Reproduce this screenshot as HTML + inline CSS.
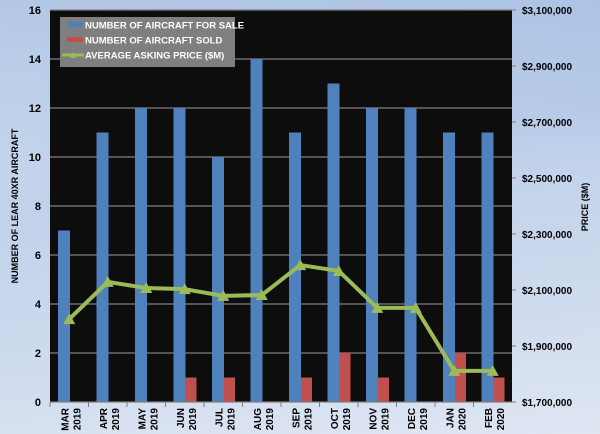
<!DOCTYPE html>
<html><head><meta charset="utf-8"><style>
html,body{margin:0;padding:0}
body{width:600px;height:434px;overflow:hidden;background:linear-gradient(170deg,#e2e9f4 0%,#c5d5ec 40%,#dfe6f2 100%);font-family:"Liberation Sans",sans-serif}
#bg{position:absolute;left:0;top:0;width:600px;height:434px;background:linear-gradient(to bottom,rgba(140,172,218,0.55) 0%,rgba(180,200,230,0.3) 40%,rgba(230,236,245,0) 100%)}
svg{position:absolute;left:0;top:0}
text{font-family:"Liberation Sans",sans-serif;font-weight:bold;fill:#000}
</style></head><body>
<div id="bg"></div>
<svg id="chart" width="600" height="434"></svg>
<script>
const months=["MAR","APR","MAY","JUN","JUL","AUG","SEP","OCT","NOV","DEC","JAN","FEB"];
const years=["2019","2019","2019","2019","2019","2019","2019","2019","2019","2019","2020","2020"];
const forSale=[7,11,12,12,10,14,11,13,12,12,11,11];
const sold=[0,0,0,1,1,0,1,2,1,0,2,1];
const price=[1996000,2129000,2107000,2103000,2079000,2082000,2189000,2168000,2036000,2036000,1811000,1811000];
const leftTicks=[0,2,4,6,8,10,12,14,16];
const rightTicks=[1700000,1900000,2100000,2300000,2500000,2700000,2900000,3100000];

const NS="http://www.w3.org/2000/svg";
const svg=document.getElementById('chart');
const L=50,R=512,T=10,B=402;
const cw=(R-L)/months.length;
const yL=v=>B-(v/16)*(B-T);
const yR=v=>B-((v-1700000)/1400000)*(B-T);
const xC=i=>L+cw*(i+0.5);
function mk(tag,attrs,parent){const e=document.createElementNS(NS,tag);for(const k in attrs)e.setAttribute(k,attrs[k]);(parent||svg).appendChild(e);return e;}

const plot=mk('rect',{x:L,y:T,width:R-L,height:B-T,fill:'#0d0d0d'});



leftTicks.forEach(t=>{
  const g=mk('line',{x1:L,x2:R,y1:yL(t),y2:yL(t),stroke:'#7f7f7f','stroke-width':1.3});
  
  
  const tx=mk('text',{x:L-9,y:yL(t)+4,'text-anchor':'end','font-size':11});
  tx.textContent=t;
  
  
});
rightTicks.forEach(t=>{
  const tk=mk('line',{x1:R,x2:R+4,y1:yR(t),y2:yR(t),stroke:'#7f7f7f'});
  
  
  const tx=mk('text',{x:R+10,y:yR(t)+4,'font-size':10});
  tx.textContent='$'+t.toLocaleString('en-US');
  
  
});

months.forEach((m,i)=>{
  const x0=L+cw*i;
  const b=mk('rect',{x:x0+8,y:yL(forSale[i]),width:12,height:B-yL(forSale[i]),fill:'#4f81bd'});
  
  
  if(sold[i]>0){
    const r=mk('rect',{x:x0+20,y:yL(sold[i]),width:11,height:B-yL(sold[i]),fill:'#c0504d'});
    
    
  }
  const tk=mk('line',{x1:x0,x2:x0,y1:B,y2:B+5,stroke:'#7f7f7f'});
  
  
  const xc=xC(i);
  const t1=mk('text',{x:0,y:0,'font-size':10,'text-anchor':'end',transform:`translate(${xc-1},${B+6}) rotate(-90)`});
  t1.textContent=m;
  
  
  const t2=mk('text',{x:0,y:0,'font-size':10,'text-anchor':'end',transform:`translate(${xc+11},${B+6}) rotate(-90)`});
  t2.textContent=years[i];
  
  
});
const ax=mk('line',{x1:L,x2:R,y1:B,y2:B,stroke:'#7f7f7f'});



const pl=mk('polyline',{points:price.map((p,i)=>xC(i)+','+yR(p)).join(' '),fill:'none',stroke:'#9bbb59','stroke-width':4,'stroke-linejoin':'round'});


price.forEach((p,i)=>{
  const x=xC(i),y=yR(p);
  const m=mk('polygon',{points:`${x-6},${y+5} ${x+6},${y+5} ${x},${y-6}`,fill:'#9bbb59'});
  
  
});

const lg=mk('g',{});


mk('rect',{x:60,y:17,width:175,height:50,fill:'#7f7f7f'},lg);
const items=[['NUMBER OF AIRCRAFT FOR SALE','#4f81bd','bar'],['NUMBER OF AIRCRAFT SOLD','#c0504d','bar'],['AVERAGE ASKING PRICE ($M)','#9bbb59','line']];
items.forEach((it,k)=>{
  const y=25+k*15;
  if(it[2]=='bar'){const s=mk('rect',{x:67,y:y-3,width:16,height:5,fill:it[1]},lg);}
  else{const s=mk('line',{x1:62,x2:84,y1:y,y2:y,stroke:it[1],'stroke-width':3},lg);mk('polygon',{points:`${70},${y+3} ${76},${y+3} ${73},${y-3}`,fill:it[1]},lg);}
  const t=mk('text',{x:85,y:y+3.5,'font-size':9.5,fill:'#fff',style:'fill:#fff'},lg);
  t.textContent=it[0];
  
  
});

const yt=mk('text',{x:0,y:0,'font-size':9,'text-anchor':'middle',transform:`translate(18,${(T+B)/2}) rotate(-90)`});
yt.textContent='NUMBER OF LEAR 40XR AIRCRAFT';


const rt=mk('text',{x:0,y:0,'font-size':9,'text-anchor':'middle',transform:`translate(588,207) rotate(-90)`});
rt.textContent='PRICE ($M)';


</script>
</body></html>
